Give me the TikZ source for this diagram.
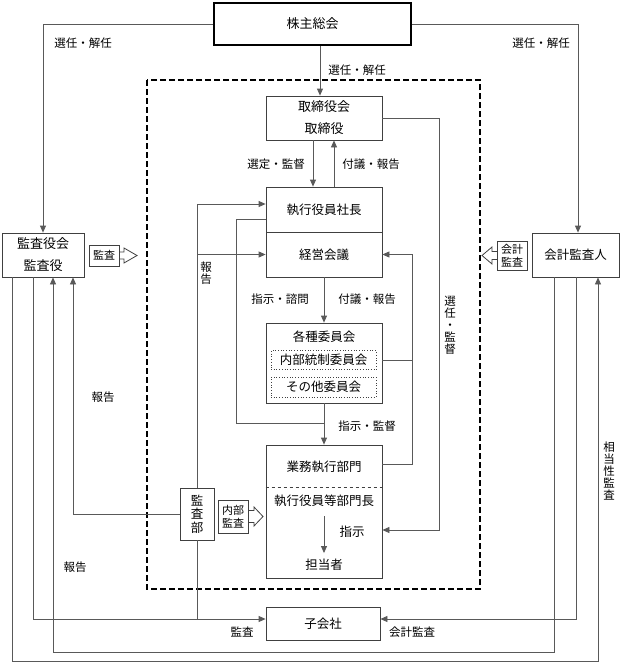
\documentclass[tikz,border=0pt]{standalone}
\usepackage{fontspec}
\newfontfamily\jp{Noto Sans CJK JP}
\usetikzlibrary{arrows.meta}
\begin{document}
\begin{tikzpicture}[x=1pt,y=-1pt,
  every node/.style={font=\jp\fontsize{12.5}{14}\selectfont, inner sep=0pt},
  box/.style={draw=black!75, line width=0.8pt},
  conn/.style={draw=black!65, line width=0.8pt},
  tip/.style={-{Triangle[length=7pt,width=6pt]}},
  lbl/.style={font=\jp\fontsize{11.5}{12}\selectfont},
  vlbl/.style={font=\jp\fontsize{11.5}{12}\selectfont, align=center},
  small/.style={font=\jp\fontsize{11}{13}\selectfont, align=center},
  ]
\useasboundingbox (0,0) rectangle (621,664);

% dashed frame
\draw[black, line width=1.3pt, dash pattern=on 6pt off 3pt] (147,80) rectangle (480,589);

% boxes
\node[draw=black, line width=1.5pt, minimum width=197pt, minimum height=42pt, font=\jp\fontsize{13}{14}\selectfont] (kabu) at (312.5,24) {株主総会};
\node[box, minimum width=116pt, minimum height=44pt, align=center, font=\jp\fontsize{13}{22}\selectfont] (torishimari) at (324,118) {取締役会\\取締役};
\node[box, minimum width=116pt, minimum height=45pt] (shacho) at (324,209.5) {執行役員社長};
\node[box, minimum width=116pt, minimum height=45pt] (keiei) at (324,254.5) {経営会議};
\node[box, minimum width=116pt, minimum height=80pt] (iinkai) at (324,363) {};
\node (iinkaiT) at (324,337) {各種委員会};
\node[draw=black!75, dotted, line width=0.7pt, minimum width=105pt, minimum height=19pt] (naibu) at (323.5,360) {内部統制委員会};
\node[draw=black!75, dotted, line width=0.7pt, minimum width=105pt, minimum height=20pt] (sonota) at (323.5,387) {その他委員会};
\node[box, minimum width=116pt, minimum height=133pt] (gyomu) at (324,511.5) {};
\node (gyomuT) at (324,467) {業務執行部門};
\node (bucho) at (324,501) {執行役員等部門長};
\node (tanto) at (324,565) {担当者};
\node (shiji) at (352,532) {指示};
\node[box, minimum width=34pt, minimum height=52pt, align=center, font=\jp\fontsize{12.5}{13.5}\selectfont] (kansabu) at (197,514) {監\\査\\部};
\node[box, minimum width=82pt, minimum height=44pt, align=center, font=\jp\fontsize{13}{22}\selectfont] (kansayaku) at (43,255) {監査役会\\監査役};
\node[box, minimum width=87pt, minimum height=44pt] (kaikei) at (575.5,255) {会計監査人};
\node[box, minimum width=114pt, minimum height=33pt] (kogaisha) at (323,623.5) {子会社};

% block-arrow labels
\node[box, minimum width=30pt, minimum height=21pt, small] (ks) at (104,255.5) {監査};
\draw[box] (ks.east |- 0,252) -- (124,252) -- (124,248) -- (137,255.5) -- (124,263) -- (124,259) -- (ks.east |- 0,259);
\node[box, minimum width=30pt, minimum height=33pt, small] (nk) at (233,516.5) {内部\\監査};
\draw[box] (248,510.5) -- (254,510.5) -- (254,507) -- (263,516.5) -- (254,526) -- (254,522.5) -- (248,522.5);
\node[box, minimum width=30pt, minimum height=29pt, small] (kk) at (512,255.5) {会計\\監査};
\draw[box] (497,251.5) -- (492,251.5) -- (492,247) -- (482,255.5) -- (492,264) -- (492,259.5) -- (497,259.5);

% connectors
\draw[conn,tip] (kabu.west) -| (kansayaku.north);
\draw[conn,tip] (kabu.east) -| ([xshift=2.5pt]kaikei.north);
\draw[conn,tip] ([xshift=7.5pt]kabu.south) -- ([xshift=-4pt]torishimari.north);
\draw[conn,tip] ([xshift=-11pt]torishimari.south) -- ([xshift=-11pt]shacho.north);
\draw[conn,tip] ([xshift=10pt]shacho.north) -- ([xshift=10pt]torishimari.south);
\draw[conn,tip] (torishimari.east) -- (439,118) -- (439,530) -- ([yshift=-18.5pt]gyomu.east);
\draw[conn,tip] (kansabu.north) -- (197,204) -- ([yshift=5.5pt]shacho.west);
\draw[conn,tip] (197,254.5) -- (keiei.west);
\coordinate (j1) at (324,423);
\draw[conn] ([yshift=-9.5pt]shacho.west) -- (236,219) -- (236,423) -- (j1);
\draw[conn,tip] (keiei.south) -- (iinkai.north);
\draw[conn,tip] (iinkai.south) -- (gyomu.north);
\draw[conn,tip] ([yshift=47.5pt]gyomu.east) -- (412,464) -- (412,254.5) -- (keiei.east);
\draw[conn] ([yshift=3pt]iinkai.east) -- (412,360);
\draw[black!75, dashed, line width=0.7pt] ([yshift=-43pt]gyomu.north west) -- ([yshift=-43pt]gyomu.north east);
\draw[conn,tip] ([yshift=-9pt]bucho.south) -- ([yshift=6pt]tanto.north);
\draw[conn,tip] (kansabu.west) -- (73,514) -- ([xshift=30pt]kansayaku.south);
\draw[conn] (kansabu.south) -- (197,619);
\draw[conn,tip] ([xshift=-10pt]kansayaku.south) -- (33,619) -- ([yshift=4.5pt]kogaisha.west);
\draw[conn,tip] ([xshift=-31pt]kansayaku.south) -- (12,661) -- (598,661) -- ([xshift=22.5pt]kaikei.south);
\draw[conn,tip] ([xshift=-21.5pt]kaikei.south) -- (554,652) -- (53,652) -- ([xshift=10pt]kansayaku.south);
\draw[conn,tip] ([xshift=0.5pt]kaikei.south) -- (576,619) -- ([yshift=4.5pt]kogaisha.east);

% labels
\node[lbl] (l1) at (83,43) {選任・解任};
\node[lbl] (l2) at (541,43) {選任・解任};
\node[lbl] (l3) at (357,70) {選任・解任};
\node[lbl] (l4) at (276,164) {選定・監督};
\node[lbl] (l5) at (371,164) {付議・報告};
\node[lbl] (l6) at (280,299) {指示・諮問};
\node[lbl] (l7) at (367,299) {付議・報告};
\node[lbl] (l8) at (367,426) {指示・監督};
\node[vlbl] (l9) at (450,325) {選\\任\\・\\監\\督};
\node[vlbl] (l10) at (206,273) {報\\告};
\node[lbl] (l11) at (103,397) {報告};
\node[lbl] (l12) at (75,567) {報告};
\node[lbl] (l13) at (242,632) {監査};
\node[lbl] (l14) at (412,632) {会計監査};
\node[vlbl] (l15) at (609,471) {相\\当\\性\\監\\査};
\end{tikzpicture}
\end{document}
